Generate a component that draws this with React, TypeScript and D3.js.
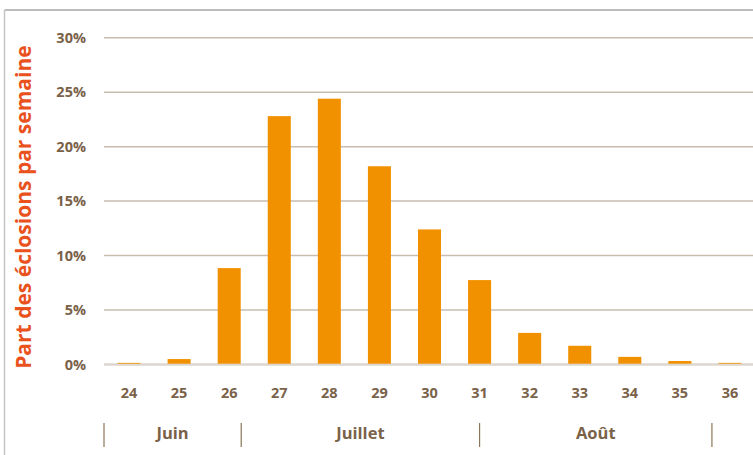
import React from "react";
import * as d3 from "d3";

// Weekly share of hatchings (weeks 24–36)
const weeks: number[] = [24, 25, 26, 27, 28, 29, 30, 31, 32, 33, 34, 35, 36];
const shares: number[] = [0.15, 0.5, 8.85, 22.8, 24.4, 18.2, 12.4, 7.75, 2.9, 1.72, 0.7, 0.32, 0.15];
const yTicks: number[] = [0, 5, 10, 15, 20, 25, 30];

// Months along the week axis: label, start week, end week (fractional)
const monthNames: string[] = ["Juin", "Juillet", "Août"];
const monthBounds: number[] = [23.5, 26.24, 31.0, 35.64];

const W = 753;
const H = 455;
const plotLeft = 104;
const plotRight = 755;
const plotTop = 37.7;
const plotBottom = 364.5;

const FONT = "'Open Sans', 'DejaVu Sans', sans-serif";
const BROWN = "#7a6249";

export default function App() {
  const x = d3
    .scaleBand<number>()
    .domain(weeks)
    .range([plotLeft, plotRight])
    .paddingInner(0.54)
    .paddingOuter(0.27);
  const y = d3.scaleLinear().domain([0, 30]).range([plotBottom, plotTop]);

  // continuous week -> pixel mapping for month separators
  const first = weeks[0];
  const xWeek = (w: number) =>
    (x(first) as number) + x.bandwidth() / 2 + (w - first) * x.step();

  return (
    <svg
      width={W}
      height={H}
      style={{ position: "absolute", left: 0, top: 0, background: "#fff" }}
    >
      {/* frame */}
      <line x1={4.5} x2={W} y1={10} y2={10} stroke="#a6a6a6" strokeWidth={1.5} />
      <line x1={4.5} x2={4.5} y1={10} y2={H} stroke="#c4c4c4" strokeWidth={1.5} />

      {/* gridlines */}
      {yTicks.map((t) => (
        <line
          key={t}
          x1={plotLeft}
          x2={W}
          y1={y(t)}
          y2={y(t)}
          stroke={t === 0 ? "#dcd6ce" : "#c9bdb0"}
          strokeWidth={t === 0 ? 2.5 : 1.5}
        />
      ))}

      {/* y tick labels */}
      {yTicks.map((t) => (
        <text
          key={t}
          x={86}
          y={y(t)}
          dy="0.35em"
          textAnchor="end"
          fontFamily={FONT}
          fontWeight={700}
          fontSize={14.5}
          fill={BROWN}
        >
          {`${t}%`}
        </text>
      ))}

      {/* bars */}
      {weeks.map((w, i) => (
        <rect
          key={w}
          x={x(w)}
          y={y(shares[i])}
          width={x.bandwidth()}
          height={y(0) - y(shares[i]) - 0.8}
          fill="#f29100"
        />
      ))}

      {/* week labels */}
      {weeks.map((w) => (
        <text
          key={w}
          x={(x(w) as number) + x.bandwidth() / 2}
          y={393}
          dy="0.35em"
          textAnchor="middle"
          fontFamily={FONT}
          fontWeight={700}
          fontSize={14.5}
          fill={BROWN}
        >
          {w}
        </text>
      ))}

      {/* month separators */}
      {monthBounds.map((b, i) => (
        <line
          key={i}
          x1={xWeek(b)}
          x2={xWeek(b)}
          y1={423}
          y2={447}
          stroke="#8c7558"
          strokeWidth={1.2}
        />
      ))}

      {/* month labels */}
      {monthNames.map((m, i) => (
        <text
          key={m}
          x={(xWeek(monthBounds[i]) + xWeek(monthBounds[i + 1])) / 2}
          y={433}
          dy="0.35em"
          textAnchor="middle"
          fontFamily={FONT}
          fontWeight={700}
          fontSize={16.5}
          fill={BROWN}
        >
          {m}
        </text>
      ))}

      {/* y axis title */}
      <text
        transform={`translate(24, ${(plotTop + plotBottom) / 2 + 6}) rotate(-90)`}
        dy="0.35em"
        textAnchor="middle"
        fontFamily={FONT}
        fontWeight={700}
        fontSize={21}
        fill="#e9521d"
      >
        Part des éclosions par semaine
      </text>
    </svg>
  );
}
